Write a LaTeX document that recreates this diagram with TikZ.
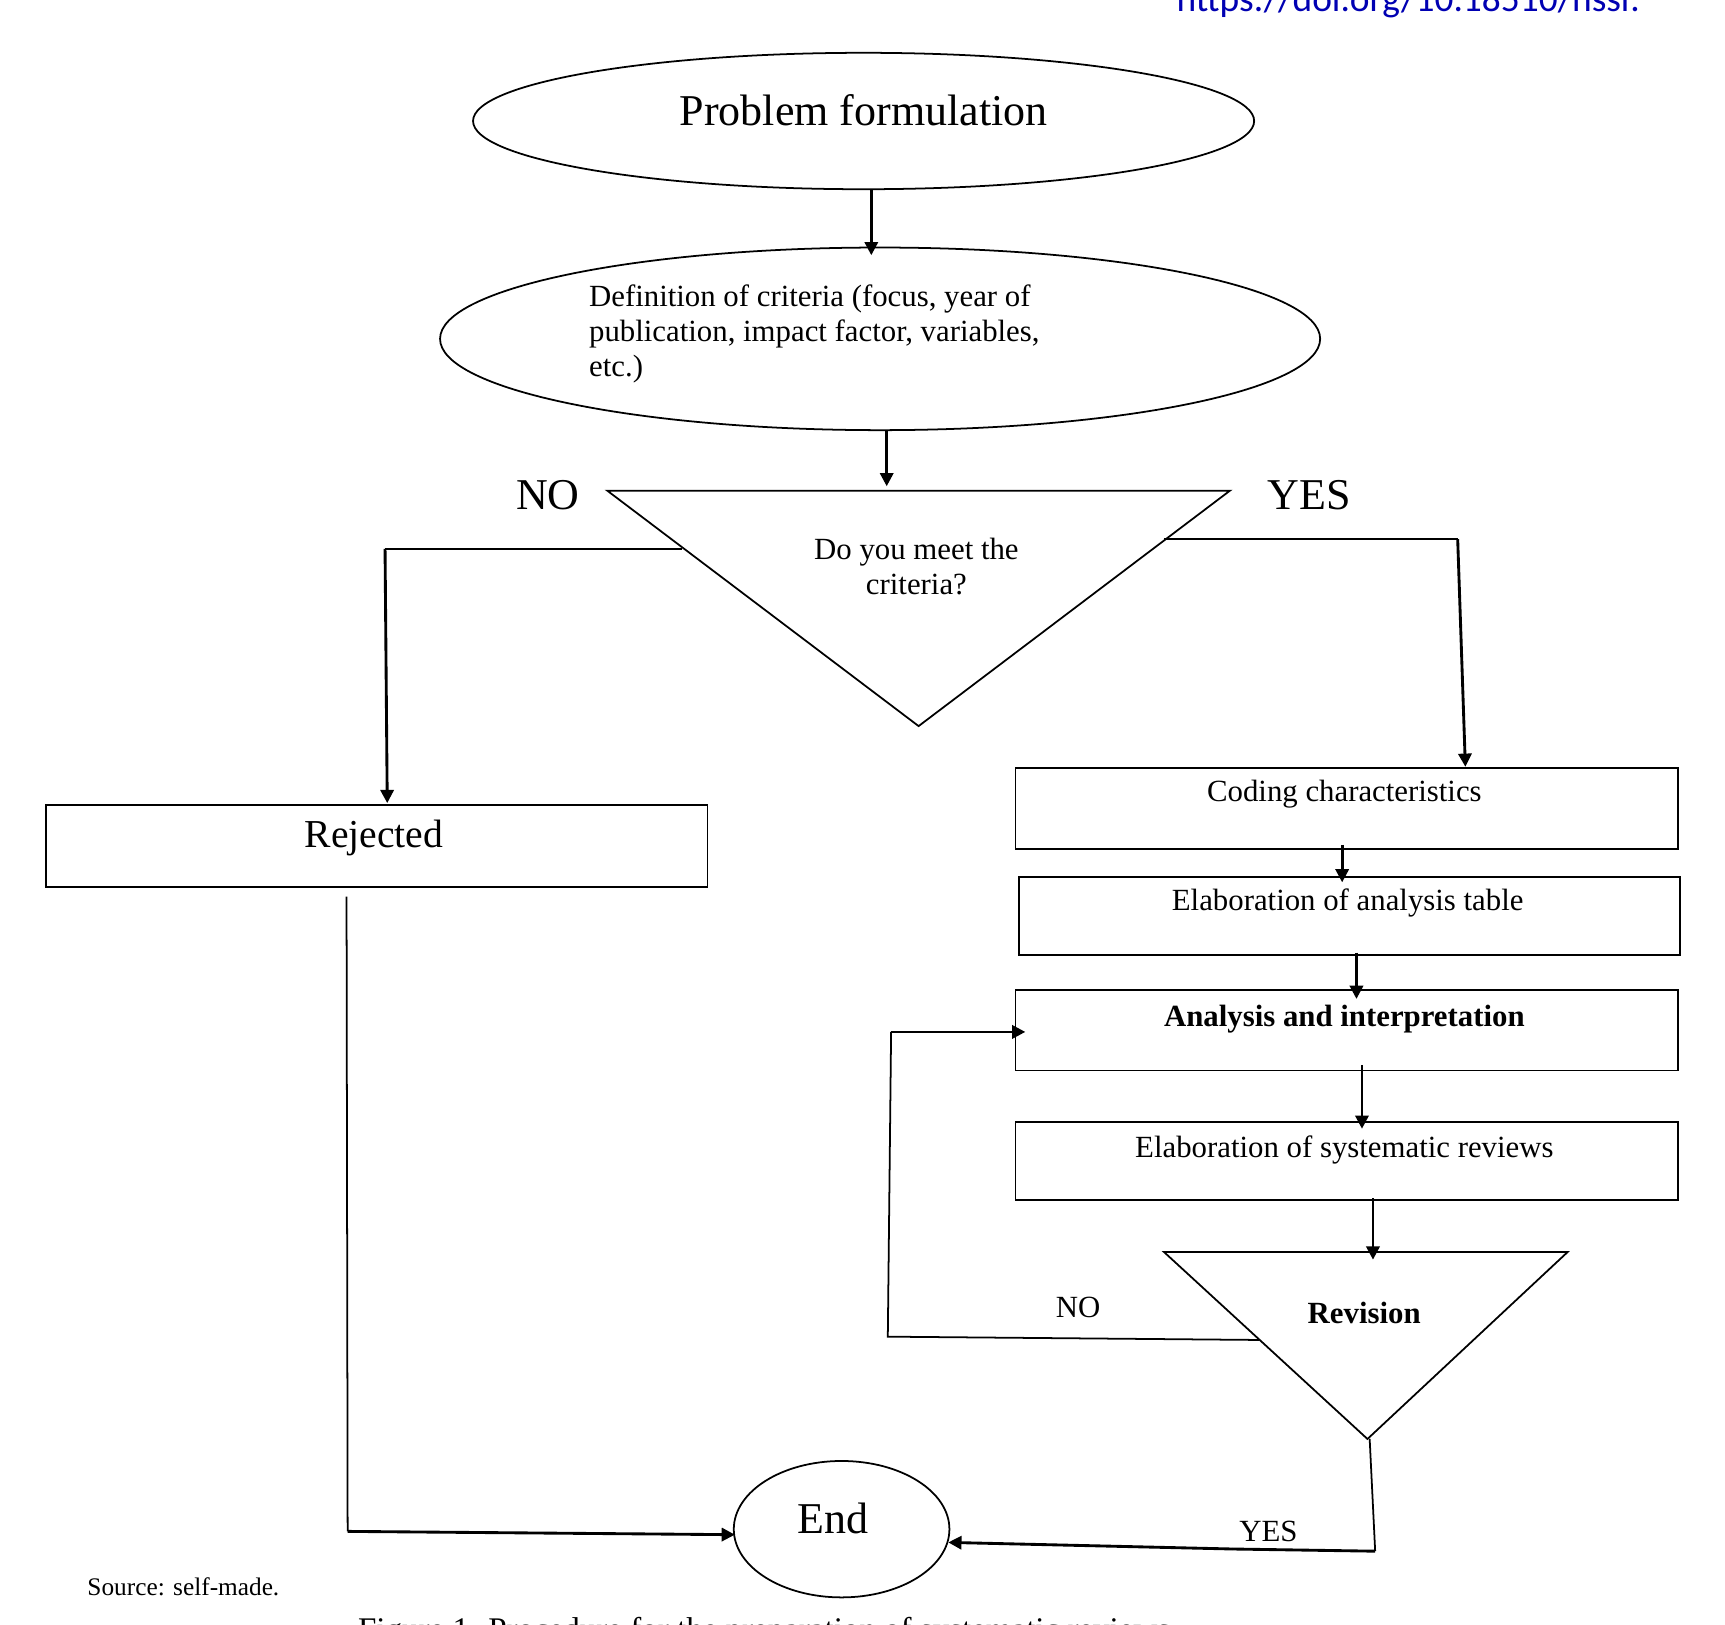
\documentclass[tikz,border=0pt]{standalone}
\usepackage{fontspec}
\setmainfont{Liberation Serif}
\newfontfamily\myurlfont{Carlito}
\usetikzlibrary{shapes.geometric,arrows.meta}
\begin{document}
\begin{tikzpicture}[x=1pt,y=-1pt,
  ln/.style={line width=2.6pt},
  ar/.style={ln,-{Triangle[length=12pt,width=12pt]}},
  box/.style={draw,line width=1.6pt},
  t/.style={font=\fontsize{28}{32}\selectfont}]
\useasboundingbox (0,0) rectangle (1568,1477);
\node[text=blue!70!black,anchor=west,font=\myurlfont\fontsize{34}{34}\selectfont] (doi) at (1066,2) {https://doi.org/10.18510/hssr.};
\draw[box] (785,110) ellipse [x radius=355,y radius=62];
\node[font=\fontsize{40}{44}\selectfont] (pf) at (785,100) {Problem formulation};
\draw[box] (800,308) ellipse [x radius=400,y radius=83];
\node[t,align=left,anchor=north west] (def) at (532,255) {Definition of criteria (focus, year of\\publication, impact factor, variables,\\etc.)};
\draw[box] (552,446) -- (1118,446) -- (835,660) -- cycle;
\node[t,align=center] (q) at (833,515) {Do you meet the\\criteria?};
\node[font=\fontsize{40}{44}\selectfont] (no1) at (498,450) {NO};
\node[font=\fontsize{40}{44}\selectfont] (yes1) at (1190,450) {YES};
\coordinate (e1b) at (792,172); \coordinate (e2t) at (792,232);
\draw[ar] (e1b) -- (e2t);
\coordinate (e2b) at (806,392); \coordinate (tt) at (806,442);
\draw[ar] (e2b) -- (tt);
\draw[box] (42,732) rectangle (643,806);
\node[font=\fontsize{36}{40}\selectfont] (rej) at (340,762) {Rejected};
\draw[box] (923,698) rectangle (1525,772);
\node[t] (cod) at (1222,722) {Coding characteristics};
\draw[box] (926,797) rectangle (1527,868);
\node[t] (tab) at (1225,821) {Elaboration of analysis table};
\draw[box] (923,900) rectangle (1525,973);
\node[font=\bfseries\fontsize{28}{32}\selectfont] (ana) at (1222,926) {Analysis and interpretation};
\draw[box] (923,1020) rectangle (1525,1091);
\node[t] (sys) at (1222,1045) {Elaboration of systematic reviews};
\coordinate (nl) at (620,499); \coordinate (nc) at (350,499); \coordinate (rt) at (352,730);
\draw[box] (nl) -- (nc); \draw[ar] (nc) -- (rt);
\coordinate (yl) at (1058,490); \coordinate (yc) at (1325,490); \coordinate (ct) at (1332,697);
\draw[box] (yl) -- (yc); \draw[ar] (yc) -- (ct);
\draw[ar] (1220,768) -- (1220,802);
\draw[ar] (1233,866) -- (1233,908);
\draw[ar] (1238,968) -- (1238,1026);
\draw[ar] (1248,1089) -- (1248,1145);
\draw[box] (1058,1138) -- (1425,1138) -- (1243,1308) -- cycle;
\node[font=\bfseries\fontsize{28}{32}\selectfont] (rev) at (1240,1193) {Revision};
\node[t] (no2) at (980,1188) {NO};
\coordinate (rl) at (1145,1218); \coordinate (rc) at (807,1215); \coordinate (rc2) at (810,938); \coordinate (at) at (932,938);
\draw[box] (rl) -- (rc) -- (rc2); \draw[ar] (rc2) -- (at);
\draw[box] (765,1390) ellipse [x radius=98,y radius=62];
\node[font=\fontsize{40}{44}\selectfont] (end) at (757,1380) {End};
\node[t] (yes2) at (1153,1392) {YES};
\coordinate (rb) at (1245,1308); \coordinate (rb2) at (1250,1410); \coordinate (rm) at (1120,1408); \coordinate (er) at (862,1402);
\draw[box] (rb) -- (rb2); \draw[ln] (rb2) -- (rm); \draw[ar] (rm) -- (er);
\coordinate (jb) at (315,815); \coordinate (jc) at (316,1392); \coordinate (el) at (668,1395);
\draw[box] (jb) -- (jc); \draw[ar] (jc) -- (el);
\node[font=\fontsize{23}{24}\selectfont,anchor=west] (src) at (76,1442) {Source: self-made.};
\node[font=\fontsize{30}{30}\selectfont,anchor=west] (cap) at (322,1484) {Figure 1. Procedure for the preparation of systematic reviews};
\end{tikzpicture}
\end{document}
